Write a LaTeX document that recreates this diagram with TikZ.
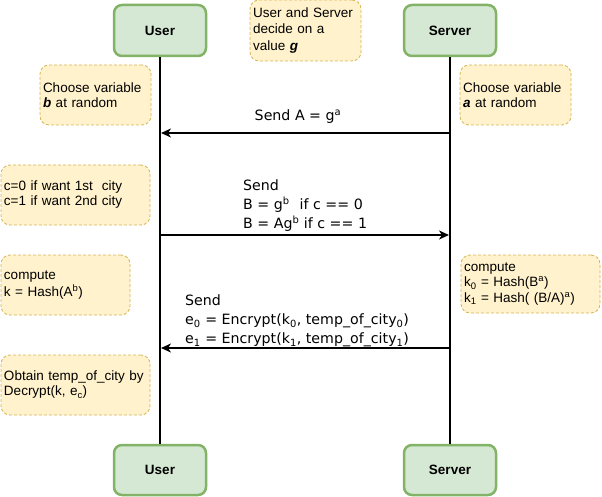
\documentclass[tikz,border=0pt]{standalone}
\usepackage{fontspec}
\setmainfont{Liberation Sans}
\newfontfamily\msgfont{DejaVu Sans}
\usetikzlibrary{arrows.meta}
\definecolor{actorfill}{HTML}{D5E8D4}
\definecolor{actorline}{HTML}{82B366}
\definecolor{notefill}{HTML}{FFF2CC}
\definecolor{noteline}{HTML}{D6B656}

\begin{document}
\begin{tikzpicture}[x=1pt,y=-1pt,
    actor/.style={draw=actorline, fill=actorfill, line width=2.5pt, rounded corners=8pt,
      minimum width=92pt, minimum height=51pt, font=\fontsize{13.5}{16}\selectfont\bfseries},
    note/.style={draw=noteline, fill=notefill, dash pattern=on 3pt off 2pt, line width=0.8pt,
      rounded corners=9pt, minimum height=60pt, align=left, inner sep=3pt,
      font=\fontsize{13.5}{15}\selectfont},
    lifeline/.style={line width=2pt},
    msg/.style={line width=2pt, -{Stealth[length=10pt,width=9pt,inset=3pt]}},
    msglabel/.style={align=left, inner sep=0pt, font=\fontsize{14.2}{19}\selectfont\msgfont}]
    \useasboundingbox (0,0) rectangle (602,497);

    % Participants
    \node[actor] (user) at (160,30.5) {User};
    \node[actor] (server) at (450,30.5) {Server};
    \node[actor, minimum height=50pt] (userEnd) at (160,470) {User};
    \node[actor, minimum height=50pt] (serverEnd) at (450,470) {Server};
    \draw[lifeline] (user) -- (userEnd);
    \draw[lifeline] (server) -- (serverEnd);

    % Notes
    \node[note, text width=105pt, minimum height=61pt, font=\fontsize{13.5}{16.5}\selectfont] (decideG) at (305.5,30.5)
      {User and Server\\decide on a\\value \textbf{\textit{g}}};
    \node[note, text width=105pt] (chooseB) at (95.5,95)
      {Choose variable\\\textbf{\textit{b}} at random};
    \node[note, text width=105pt] (chooseA) at (515.5,95)
      {Choose variable\\\textbf{\textit{a}} at random};
    \node[note, text width=143pt] (pickC) at (75.5,195)
      {c=0 if want 1st\ \ city\\c=1 if want 2nd city};
    \node[note, text width=123pt, font=\fontsize{13.5}{17}\selectfont] (computeK) at (65.5,285)
      {compute\\k = Hash(A\textsuperscript{b})};
    \node[note, text width=133pt, minimum height=58pt, font=\fontsize{13.5}{15.5}\selectfont] (computeKs) at (530.5,284)
      {compute\\k\textsubscript{0} = Hash(B\textsuperscript{a})\\k\textsubscript{1} = Hash( (B/A)\textsuperscript{a})};
    \node[note, text width=143pt] (obtainTemp) at (75.5,385)
      {Obtain temp\_of\_city by\\Decrypt(k, e\textsubscript{c})};

    % Messages
    \coordinate (sendAFrom) at (450,133);
    \coordinate (sendATo) at (161,133);
    \draw[msg] (sendAFrom) -- (sendATo);
    \node[msglabel] (sendALabel) at (298,117) {Send A = g\textsuperscript{a}};

    \coordinate (sendBFrom) at (160,235);
    \coordinate (sendBTo) at (449,235);
    \draw[msg] (sendBFrom) -- (sendBTo);
    \node[msglabel, anchor=west] (sendBLabel) at (243,206)
      {Send\\B = g\textsuperscript{b}\hspace{10pt}if c == 0\\B = Ag\textsuperscript{b} if c == 1};

    \coordinate (sendEFrom) at (450,348);
    \coordinate (sendETo) at (161,348);
    \draw[msg] (sendEFrom) -- (sendETo);
    \node[msglabel, anchor=west] (sendELabel) at (185,321)
      {Send\\e\textsubscript{0} = Encrypt(k\textsubscript{0}, temp\_of\_city\textsubscript{0})\\e\textsubscript{1} = Encrypt(k\textsubscript{1}, temp\_of\_city\textsubscript{1})};
\end{tikzpicture}
\end{document}
